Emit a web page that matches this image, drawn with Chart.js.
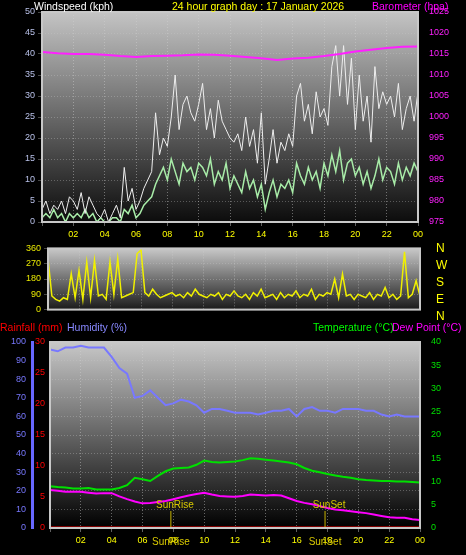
<!DOCTYPE html>
<html>
<head>
<script src="https://cdn.jsdelivr.net/npm/chart.js@4/dist/chart.umd.min.js"></script>
<style>
body{margin:0;background:#000;width:466px;height:555px;overflow:hidden;position:relative;font-family:"Liberation Sans",Arial,sans-serif}
canvas{position:absolute;left:0}
.t{position:absolute;font-size:10.5px;line-height:12px;white-space:nowrap}
</style>
</head>
<body>
<canvas id="wind" width="466" height="240" style="top:0"></canvas>
<canvas id="dir" width="466" height="78" style="top:240px"></canvas>
<canvas id="temp" width="466" height="237" style="top:318px"></canvas>
<div class="t" style="left:34px;top:0;color:#fff">Windspeed (kph)</div>
<div class="t" style="left:172px;top:0;color:#ff0">24 hour graph day : 17 January 2026</div>
<div class="t" style="left:372px;top:0;color:#f0f">Barometer (hpa)</div>
<div class="t" style="left:436px;top:240px;color:#ff0;font-size:12px;line-height:17px">N<br>W<br>S<br>E<br>N</div>
<div class="t" style="left:0;top:321px;color:#f00">Rainfall (mm)</div>
<div class="t" style="left:67px;top:321px;color:#88f">Humidity (%)</div>
<div class="t" style="left:313px;top:321px;color:#0f0">Temperature (°C)</div>
<div class="t" style="left:392px;top:321px;color:#f0f">Dew Point (°C)</div>
<script>
Chart.defaults.font.family = '"Liberation Sans", Arial, sans-serif';
Chart.defaults.font.size = 9;
Chart.defaults.animation = false;

// 15-minute samples, 00:00 .. 24:00
var windGust = [3,5,2,4,3,5,2,6,5, 3,7,2,6,4,2,1,3, 0,2,4,1,13,5,8,3, 5,8,10,12,26,16,20,18,
  25,35,22,28,30,26,24,28, 33,22,27,20,29,24,22,20, 19,21,17,25,18,22,14,26, 9,15,22,14,19,17,21,18,
  30,33,24,28,21,31,25,27, 23,37,42,30,42,28,39,22, 35,24,30,19,37,27,31,28, 30,25,33,22,27,30,24,31,25];
var windAvg = [1,2,1,3,1,2,0,2,1, 2,1,3,1,2,0,1,0, 0,1,1,0,3,2,4,1, 2,4,5,6,9,11,13,10,
  15,12,9,14,12,13,10,14, 13,11,15,9,12,10,14,8, 11,9,7,12,8,10,6,9, 3,7,10,6,9,8,10,7,
  14,11,9,13,10,12,8,14, 11,16,12,17,10,14,15,11, 13,9,12,8,11,15,10,13, 12,9,14,10,13,11,14,12,13];
var windDir = [300,80,60,50,70,60,210,70,230, 60,280,70,290,80,90,60,280, 90,300,70,80,90,100,330,350,
  100,80,120,90,70,80,90,100, 80,90,70,100,80,120,90,80, 70,90,80,100,60,90,80,110, 80,70,90,60,100,80,120,70,
  80,90,60,100,70,90,80,110, 70,90,80,120,60,90,80,100, 90,180,70,210,80,90,60,90, 80,70,100,60,90,80,130,70,
  90,60,80,340,70,90,170,80,90];
// hourly
var baro = [1015.5,1015.2,1015,1015,1014.8,1014.5,1014.3,1014.5,1014.6,1014.7,1014.9,1014.8,1014.6,
  1014.3,1014,1013.6,1013.9,1014.1,1014.5,1015,1015.6,1016,1016.4,1016.7,1016.8];
// 30-minute samples
var humidity = [96,95,97,97,98,97,97,97,92,86,83,70,71,74,70,66,67,69,68,66,62,64,64,63,62,62,62,61,62,63,
  63,64,60,64,65,63,63,62,64,64,64,63,63,61,60,61,60,60,60];
var temperature = [9.0,8.8,8.7,8.5,8.5,8.6,8.3,8.3,8.3,8.6,9.2,10.8,10.5,10.1,11.2,12.2,12.8,12.9,13.0,13.6,
  14.5,14.2,14.1,14.2,14.3,14.6,15.0,14.9,14.7,14.5,14.3,14.1,13.7,12.9,12.3,12.0,11.6,11.3,11.0,10.8,
  10.5,10.3,10.2,10.1,10.1,10.0,10.0,9.9,9.8];
var dewPoint = [8.2,8.0,7.8,7.8,7.8,7.6,7.4,7.5,7.5,6.8,6.2,5.7,5.3,5.4,5.6,5.8,6.2,6.6,7.0,7.3,7.6,7.2,6.9,6.8,
  6.7,6.9,7.2,7.1,7.0,7.1,7.0,6.4,5.8,5.4,5.1,4.7,4.3,4.0,3.8,3.6,3.4,3.2,2.9,2.6,2.3,2.2,2.2,1.9,1.7];
var rainfall = [0,0,0,0,0,0,0,0,0,0,0,0,0,0,0,0,0,0,0,0,0,0,0,0,0];
var sunEvents = [{label:'SunRise', hour:7.84}, {label:'SunSet', hour:17.84}];

function pts(arr, step){ return arr.map(function(v,i){ return {x:i*step, y:v}; }); }
function fixW(w){ return function(s){ s.width = w; }; }
function fixH(h){ return function(s){ s.height = h; }; }
function plain(v){ return String(v); }
function hourAxis(show, h){
  return {type:'linear', min:0, max:24, afterFit:fixH(h),
    ticks:{display:show, stepSize:2, color:'#ff0', maxRotation:0, autoSkip:false,
      callback:function(v){ return v==0 ? '' : String(v%24).padStart(2,'0'); }},
    grid:{color:'rgba(210,210,210,0.45)', drawTicks:show, tickLength:4},
    border:{display:false, dash:[1,2]}};
}
function bgPlugin(top, bottom){
  return {id:'bg', beforeDraw:function(c){
    var ctx=c.ctx, a=c.chartArea;
    ctx.save(); ctx.fillStyle='#000'; ctx.fillRect(0,0,c.width,c.height);
    var g=ctx.createLinearGradient(0,a.top,0,a.bottom);
    g.addColorStop(0,top); g.addColorStop(1,bottom);
    ctx.fillStyle=g; ctx.fillRect(a.left,a.top,a.right-a.left,a.bottom-a.top);
    ctx.restore();
  }, afterDraw:function(c){
    var ctx=c.ctx, a=c.chartArea;
    ctx.save(); ctx.strokeStyle='#c8c8c8'; ctx.lineWidth=2;
    ctx.strokeRect(a.left,a.top,a.right-a.left,a.bottom-a.top); ctx.restore();
  }};
}
var line = {pointRadius:0, tension:0};

new Chart(document.getElementById('wind'), {
  type:'line',
  data:{datasets:[
    Object.assign({data:pts(baro,1), borderColor:'#ff20ff', borderWidth:2, yAxisID:'baro'}, line),
    Object.assign({data:pts(windGust,0.25), borderColor:'#eeeeee', borderWidth:1, yAxisID:'y'}, line),
    Object.assign({data:pts(windAvg,0.25), borderColor:'#a8eca8', borderWidth:1.5, yAxisID:'y'}, line)
  ]},
  options:{responsive:false, devicePixelRatio:1, layout:{padding:{top:12}},
    plugins:{legend:{display:false}, tooltip:{enabled:false}},
    scales:{
      x:hourAxis(true,18),
      y:{position:'left', min:0, max:50, afterFit:fixW(42),
        ticks:{stepSize:5, color:'#b8c0e8'}, grid:{color:'rgba(200,200,200,0.35)', tickLength:4},
        border:{display:false, dash:[1,2]}},
      baro:{position:'right', min:975, max:1025, afterFit:fixW(48),
        ticks:{stepSize:5, color:'#ff20ff', callback:plain}, grid:{display:false}, border:{display:false}}
    }},
  plugins:[bgPlugin('#c4c4c4','#0c0c0c')]
});

new Chart(document.getElementById('dir'), {
  type:'line',
  data:{datasets:[
    Object.assign({data:pts(windDir,0.25), borderColor:'#f0f000', borderWidth:1.5}, line)
  ]},
  options:{responsive:false, devicePixelRatio:1, layout:{padding:{top:6, bottom:5}},
    plugins:{legend:{display:false}, tooltip:{enabled:false}},
    scales:{
      x:hourAxis(false,0),
      y:{position:'left', min:0, max:360, afterFit:fixW(48),
        ticks:{stepSize:90, color:'#e8e800'}, grid:{color:'rgba(200,200,200,0.35)', tickLength:4},
        border:{display:false, dash:[1,2]}},
      r:{position:'right', min:0, max:360, afterFit:fixW(46), ticks:{display:false},
        grid:{display:false}, border:{display:false}}
    }},
  plugins:[bgPlugin('#c8c8c8','#1a1a1a')]
});

var sunPlugin = {id:'sun', afterDatasetsDraw:function(c){
  var ctx=c.ctx, x=c.scales.x, a=c.chartArea;
  ctx.save(); ctx.font='10px "Liberation Sans", Arial'; ctx.textAlign='center';
  sunEvents.forEach(function(e){
    var px=x.getPixelForValue(e.hour);
    ctx.strokeStyle='#c8b400'; ctx.lineWidth=1;
    ctx.beginPath(); ctx.moveTo(px,a.bottom); ctx.lineTo(px,a.bottom-17); ctx.stroke();
    ctx.fillStyle='#d8c800';
    ctx.fillText(e.label, px+4, a.bottom-20);
    ctx.fillText(e.label, px, a.bottom+17);
  });
  ctx.restore();
}};

new Chart(document.getElementById('temp'), {
  type:'line',
  data:{datasets:[
    Object.assign({data:pts(humidity,0.5), borderColor:'#7878ff', borderWidth:2, yAxisID:'hum'}, line),
    Object.assign({data:pts(temperature,0.5), borderColor:'#00e000', borderWidth:2, yAxisID:'t'}, line),
    Object.assign({data:pts(dewPoint,0.5), borderColor:'#ff00ff', borderWidth:2, yAxisID:'t'}, line),
    Object.assign({data:pts(rainfall,1), borderColor:'#ff0000', borderWidth:3, yAxisID:'rain'}, line)
  ]},
  options:{responsive:false, devicePixelRatio:1, layout:{padding:{top:24}},
    plugins:{legend:{display:false}, tooltip:{enabled:false}},
    scales:{
      x:hourAxis(true,27),
      rain:{position:'left', min:0, max:30, afterFit:fixW(18),
        ticks:{stepSize:5, color:'#ff0000', padding:5}, grid:{display:false, drawTicks:false},
        border:{display:true, color:'#cc0000', width:1}},
      hum:{position:'left', min:0, max:100, afterFit:fixW(32),
        ticks:{stepSize:10, color:'#7878ff', padding:6}, grid:{color:'rgba(200,200,200,0.35)', drawTicks:false},
        border:{display:true, color:'#6868ff', width:3, dash:[1,2]}},
      t:{position:'right', min:0, max:40, afterFit:fixW(46),
        ticks:{stepSize:5, color:'#00e000'}, grid:{display:false}, border:{display:false}}
    }},
  plugins:[bgPlugin('#c8c8c8','#000000'), sunPlugin]
});
</script>
</body>
</html>
